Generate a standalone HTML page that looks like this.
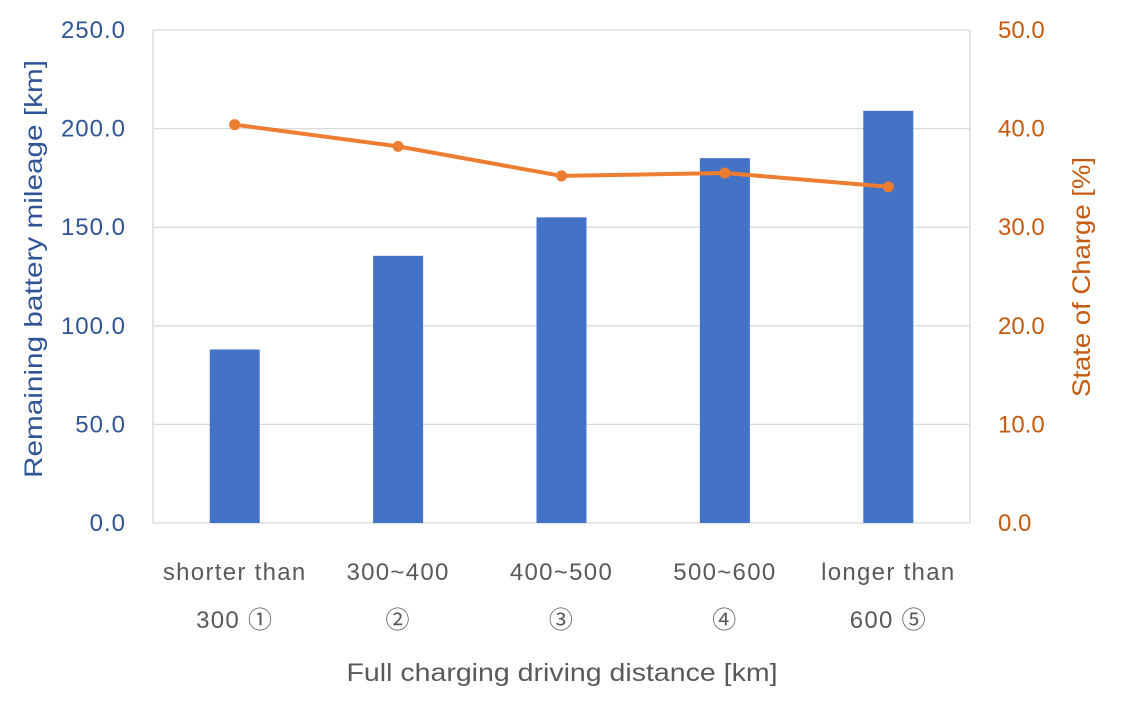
<!DOCTYPE html>
<html><head><meta charset="utf-8"><style>
body{margin:0;background:#fff;}
svg text{font-family:"Liberation Sans","Noto Sans CJK KR",sans-serif;}
</style></head><body>
<svg width="1121" height="708" viewBox="0 0 1121 708" id="chart">
<g id="grid"></g><g id="bars"></g><g id="line"></g><g id="axes"></g>
<text x="562" y="681" font-size="25" fill="#595959" text-anchor="middle" textLength="431" lengthAdjust="spacingAndGlyphs">Full charging driving distance [km]</text>
<text transform="translate(42,269) rotate(-90)" font-size="25" fill="#2F5597" text-anchor="middle" textLength="418" lengthAdjust="spacingAndGlyphs">Remaining battery mileage [km]</text>
<text transform="translate(1090,277) rotate(-90)" font-size="25" fill="#C55A11" text-anchor="middle" textLength="240" lengthAdjust="spacingAndGlyphs">State of Charge [%]</text>
</svg>
<script>
const catLine1=["shorter than","300~400","400~500","500~600","longer than"];
const catLine2=["300 ①","②","③","④","600 ⑤"];
const mileage=[88,135.5,155,185,209];
const soc=[40.4,38.2,35.2,35.5,34.1];
const leftTicks=[0,50,100,150,200,250];
const rightTicks=[0,10,20,30,40,50];
const NS="http://www.w3.org/2000/svg";
const L=153,R=970,T=30,B=523;
const yL=v=>B-(v/250)*(B-T);
const yR=v=>B-(v/50)*(B-T);
const cw=(R-L)/catLine1.length;
const xc=i=>L+cw*(i+0.5);
function mk(tag,attrs,parent,txt){const e=document.createElementNS(NS,tag);for(const k in attrs)e.setAttribute(k,attrs[k]);if(txt!==undefined)e.textContent=txt;document.getElementById(parent).appendChild(e);return e;}
leftTicks.forEach((t,i)=>{
  const g=mk('line',{x1:L,x2:R,y1:yL(t),y2:yL(t),stroke:'#D9D9D9','stroke-width':1.3},'grid');
  
  
  const a=mk('text',{x:126,y:yL(t)+8,'font-size':24,fill:'#2F5597','text-anchor':'end','letter-spacing':1},'axes',t.toFixed(1));
  
  
});
rightTicks.forEach(t=>{
  const a=mk('text',{x:998,y:yR(t)+8,'font-size':24,fill:'#C55A11','text-anchor':'start'},'axes',t.toFixed(1));
  
  
});
[L,R].forEach(x=>{const v=mk('line',{x1:x,x2:x,y1:T,y2:B,stroke:'#D9D9D9','stroke-width':1.3},'grid');
  
  });
mileage.forEach((v,i)=>{
  const b=mk('rect',{x:xc(i)-25,y:yL(v),width:50,height:B-yL(v),fill:'#4472C4'},'bars');
  
  
  const t1=mk('text',{x:xc(i),y:580,'font-size':24,fill:'#595959','text-anchor':'middle','letter-spacing':1.3},'axes',catLine1[i]);
  
  
  const t2=mk('text',{x:xc(i),y:628,'font-size':24,fill:'#595959','text-anchor':'middle','letter-spacing':1.3},'axes',catLine2[i]);
  
  
});
const pl=mk('polyline',{points:soc.map((v,i)=>xc(i)+','+yR(v)).join(' '),fill:'none',stroke:'#ED7D31','stroke-width':4,'stroke-linejoin':'round'},'line');


soc.forEach((v,i)=>{
  const c=mk('circle',{cx:xc(i),cy:yR(v),r:5.5,fill:'#ED7D31'},'line');
  
  
});
</script>
</body></html>
